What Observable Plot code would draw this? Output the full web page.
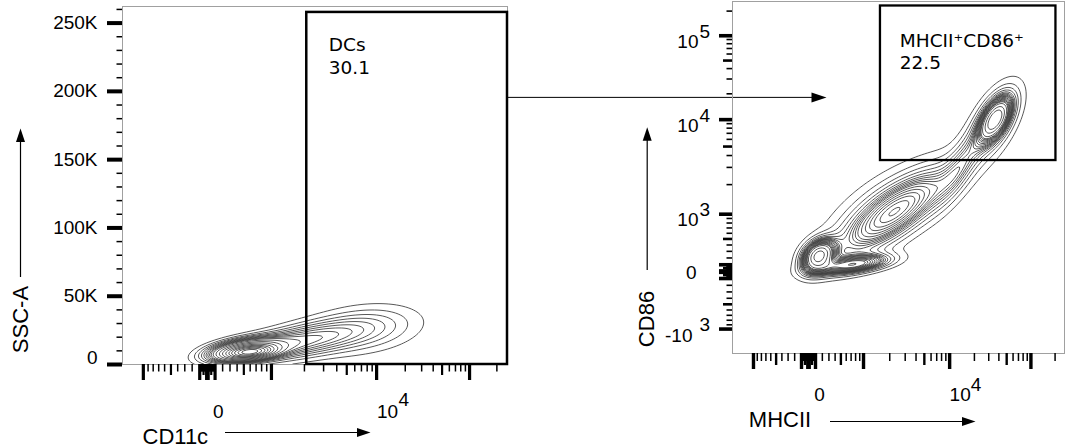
<!DOCTYPE html>
<html><head><meta charset="utf-8">
<script src="https://cdn.jsdelivr.net/npm/d3@7"></script>
<script src="https://cdn.jsdelivr.net/npm/@observablehq/plot@0.6"></script>
<style>
body{margin:0;background:#fff;}
#wrap{position:relative;width:1066px;height:448px;overflow:hidden;}
#wrap svg{position:absolute;left:0;top:0;}
</style></head><body><div id="wrap"></div>
<script>
const T = 262144;
const cd11cAxis = {C: 121.8, p: 3.18, min: -1554, max: T};
const mhciiAxis = {C: 165, p: 2.0, min: -1745, max: T};
const cd86Axis  = {C: 125, p: 3.1, min: -1775, max: T};
const sscDomainK = [0, 262.144];

// ---------------- tick labels ----------------
const sscTicksK = [0, 50, 100, 150, 200, 250];
const sscTickLabels = ["0", "50K", "100K", "150K", "200K", "250K"];
const sscMinorK = d3.range(10, 261, 10).filter(v => v % 50 !== 0);
const cd11cLabelValues = [0, 10000];
const cd11cLabelBase = ["0", "10"];
const cd11cLabelExp = ["", "4"];
const mhciiLabelValues = [0, 10000];
const mhciiLabelBase = ["0", "10"];
const mhciiLabelExp = ["", "4"];
const cd86LabelValues = [100000, 10000, 1000, 0, -1000];
const cd86LabelBase = ["10", "10", "10", "0", "-10"];
const cd86LabelExp = ["5", "4", "3", "", "3"];

// ---------------- gates ----------------
const dcGate  = {x1: 2100, x2: T, y1: 0, y2: 257.8, name: "DCs", pct: "30.1"};
const mhcGate = {x1: 1570, x2: 205000, y1: 3540, y2: 231000, name: "MHCII\u207ACD86\u207A", pct: "22.5"};
const gateLinkSSC = 195.6; // level (K) where the arrow leaves the DCs gate

// ---------------- populations (display units: biex z for log axes, K for SSC) ----------------
// left: CD11c (z) vs SSC-A (K)
const leftCx  = [1.10, 0.97, 2.30, 4.00];
const leftCy  = [9.0, 10.5, 16.5, 26.0];
const leftSx  = [0.36, 0.58, 1.00, 0.95];
const leftSy  = [2.9, 5.1, 9.0, 11.5];
const leftRho = [0.30, 0.40, 0.55, 0.25];
const leftW   = [0.18, 0.30, 0.30, 0.20];
// right: MHCII (z) vs CD86 (z)
const rightCx  = [0.29, 1.30, 2.50, 2.07, 5.38, 5.33, 4.38];
const rightCy  = [0.45, 0.20, 1.67, 2.01, 4.32, 4.22, 3.00];
const rightSx  = [0.30, 0.70, 1.092, 1.123, 0.28, 0.50, 0.46];
const rightSy  = [0.28, 0.18, 0.821, 0.823, 0.38, 0.70, 0.70];
const rightRho = [0.30, 0.50, 0.79, 0.71, 0.55, 0.60, 0.78];
const rightW   = [0.10, 0.08, 0.38, 0.08, 0.10, 0.10, 0.05];
const contourFractions = d3.range(1, 20).map(k => k / 20);

// ---------------- helpers ----------------
function biexValue(z, a) {
  const s = z < 0 ? -1 : 1, u = Math.abs(z), p2 = a.p * a.p;
  return s * a.C * (Math.exp(u) - p2 * Math.exp(-u / a.p) + p2 - 1);
}
function biex(v, a) {
  const s = v < 0 ? -1 : 1, t = Math.abs(v);
  let lo = 0, hi = 30;
  for (let i = 0; i < 70; i++) { const m = (lo + hi) / 2; if (biexValue(m, a) < t) lo = m; else hi = m; }
  return s * (lo + hi) / 2;
}
function biexTicks(a) {
  const major = [0], medium = [], minor = [];
  for (const s of [-1, 1]) for (let k = 1; k <= 5; k++) for (let m = 1; m <= 9; m++) {
    const v = s * m * 10 ** k;
    if (v < a.min || v > a.max) continue;
    if (m === 1) major.push(v); else if (m === 5) medium.push(v); else minor.push(v);
  }
  return {major, medium, minor};
}
function mixture(cx, cy, sx, sy, rho, w) {
  return (x, y) => {
    let s = 0;
    for (let i = 0; i < cx.length; i++) {
      const dx = (x - cx[i]) / sx[i], dy = (y - cy[i]) / sy[i], r = rho[i], q = 1 - r * r;
      s += w[i] / (sx[i] * sy[i] * Math.sqrt(q)) * Math.exp(-(dx * dx - 2 * r * dx * dy + dy * dy) / (2 * q));
    }
    return s;
  };
}
// density grid (row 0 = top of the frame) and equal-probability contour levels
function densityGrid(f, xd, yd, w, h) {
  const vals = new Float64Array(w * h);
  for (let j = 0; j < h; j++) for (let i = 0; i < w; i++)
    vals[j * w + i] = f(xd[0] + (xd[1] - xd[0]) * (i + 0.5) / w, yd[1] + (yd[0] - yd[1]) * (j + 0.5) / h);
  return vals;
}
function probLevels(vals, fracs) {
  const s = Array.from(vals).sort((a, b) => b - a);
  const total = d3.sum(s);
  const out = []; let acc = 0, k = 0;
  for (const v of s) { acc += v; while (k < fracs.length && acc >= fracs[k] * total) { out.push(v); k++; } }
  return out;
}
const arrowHead = {draw(ctx, size) { const r = Math.sqrt(size / Math.PI); ctx.moveTo(0, 0); ctx.lineTo(-3 * r, -r); ctx.lineTo(-3 * r, r); ctx.closePath(); }};

const fontTick = "Liberation Sans, Arial, Helvetica, sans-serif";
const fontGate = "DejaVu Sans, Verdana, sans-serif";
const W = 1066, H = 448;
const noText = () => "";

// ================= LEFT PANEL =================
const zL = v => biex(v, cd11cAxis);
const xdL = [zL(cd11cAxis.min), zL(cd11cAxis.max)];
const densL = mixture(leftCx, leftCy, leftSx, leftSy, leftRho, leftW);
const gwL = 385, ghL = 358;
const gridL = densityGrid(densL, xdL, sscDomainK, gwL, ghL);
const thrL = probLevels(gridL, contourFractions);
const tL = biexTicks(cd11cAxis);
const sscLabels = sscTicksK.map((v, i) => ({v, t: sscTickLabels[i]}));
const cd11cLabels = cd11cLabelValues.map((v, i) => ({v, b: cd11cLabelBase[i], e: cd11cLabelExp[i]}));

const left = Plot.plot({
  width: W, height: H,
  marginLeft: 122, marginRight: W - 507, marginTop: 6, marginBottom: H - 364,
  style: {background: "transparent", overflow: "visible"},
  x: {domain: xdL},
  y: {domain: sscDomainK},
  marks: [
    Plot.contour(gridL, {value: d => d, width: gwL, height: ghL, x1: xdL[0], x2: xdL[1], y1: sscDomainK[1], y2: sscDomainK[0], thresholds: thrL, fill: "none", stroke: "#3a3a3a", strokeWidth: 0.85, clip: true}),
    Plot.frame({stroke: "#a0a0a0", strokeWidth: 1}),
    Plot.axisX(tL.minor.map(zL), {tickSize: 7.5, strokeWidth: 1.5, tickFormat: noText, label: null}),
    Plot.axisX(tL.medium.map(zL), {tickSize: 11, strokeWidth: 2.2, tickFormat: noText, label: null}),
    Plot.axisX(tL.major.map(zL), {tickSize: 16, strokeWidth: 3.2, tickFormat: noText, label: null}),
    Plot.axisY(sscMinorK, {tickSize: 5.5, strokeWidth: 1.5, tickFormat: noText, label: null}),
    Plot.axisY(sscTicksK, {tickSize: 15, strokeWidth: 4, tickFormat: noText, label: null}),
    Plot.text(sscLabels.filter(d => d.v > 0), {y: "v", text: "t", frameAnchor: "left", textAnchor: "end", dx: -25, fontSize: 19, fontFamily: fontTick, fill: "black"}),
    Plot.text(sscLabels.filter(d => d.v === 0), {y: "v", text: "t", frameAnchor: "left", textAnchor: "end", dx: -25, dy: -7, fontSize: 19, fontFamily: fontTick, fill: "black"}),
    Plot.text(cd11cLabels, {x: d => zL(d.v), text: "b", frameAnchor: "bottom", lineAnchor: "bottom", dx: 11, dy: 53, fontSize: 19, fontFamily: fontTick, fill: "black"}),
    Plot.text(cd11cLabels.filter(d => d.e), {x: d => zL(d.v), text: "e", frameAnchor: "bottom", lineAnchor: "bottom", textAnchor: "start", dx: 22, dy: 41, fontSize: 19, fontFamily: fontTick, fill: "black"}),
    // axis titles + arrows
    Plot.text(["SSC-A"], {frameAnchor: "bottom-left", rotate: -90, textAnchor: "middle", lineAnchor: "bottom", dx: -95, dy: -45, fontSize: 22, fontFamily: fontTick, fill: "black"}),
    Plot.ruleX([xdL[0]], {dx: -102, insetTop: 134, insetBottom: 87, stroke: "black", strokeWidth: 1.2}),
    Plot.dot([0], {frameAnchor: "top-left", dx: -102, dy: 122, symbol: arrowHead, r: 4.5, rotate: -90, fill: "black", stroke: "none"}),
    Plot.text(["CD11c"], {frameAnchor: "bottom-left", textAnchor: "start", lineAnchor: "bottom", dx: 20, dy: 79, fontSize: 22, fontFamily: fontTick, fill: "black"}),
    Plot.ruleY([0], {dy: 68, insetLeft: 103, insetRight: 147, stroke: "black", strokeWidth: 1.2}),
    Plot.dot([0], {frameAnchor: "bottom-left", dx: 248, dy: 68, symbol: arrowHead, r: 4.5, fill: "black", stroke: "none"}),
    // gate
    Plot.rect([dcGate], {x1: d => zL(d.x1), x2: d => zL(d.x2), y1: "y1", y2: "y2", fill: "none", stroke: "black", strokeWidth: 2.5}),
    Plot.text([dcGate], {x: d => zL(d.x1), y: "y2", text: d => d.name + "\n" + d.pct, textAnchor: "start", lineAnchor: "top", dx: 22, dy: 22, lineHeight: 1.25, fontSize: 18.5, fontFamily: fontGate, fill: "black"}),
    // link arrow to the next panel
    Plot.ruleY([gateLinkSSC], {insetLeft: 385, insetRight: -305, stroke: "black", strokeWidth: 1}),
    Plot.dot([gateLinkSSC], {y: d => d, frameAnchor: "right", dx: 319, symbol: arrowHead, r: 5, fill: "black", stroke: "none"})
  ]
});

// ================= RIGHT PANEL =================
const zX = v => biex(v, mhciiAxis);
const zY = v => biex(v, cd86Axis);
const xdR = [zX(mhciiAxis.min), zX(mhciiAxis.max)];
const ydR = [zY(cd86Axis.min), zY(cd86Axis.max)];
const densR = mixture(rightCx, rightCy, rightSx, rightSy, rightRho, rightW);
const gwR = 332, ghR = 352;
const gridR = densityGrid(densR, xdR, ydR, gwR, ghR);
const thrR = probLevels(gridR, contourFractions);
const tX = biexTicks(mhciiAxis), tY = biexTicks(cd86Axis);
const mhcLabels = mhciiLabelValues.map((v, i) => ({v, b: mhciiLabelBase[i], e: mhciiLabelExp[i]}));
const cd86Labels = cd86LabelValues.map((v, i) => ({v, b: cd86LabelBase[i], e: cd86LabelExp[i]}));

const right = Plot.plot({
  width: W, height: H,
  marginLeft: 732, marginRight: 2, marginTop: 1, marginBottom: H - 353,
  style: {background: "transparent", overflow: "visible"},
  x: {domain: xdR},
  y: {domain: ydR},
  marks: [
    Plot.contour(gridR, {value: d => d, width: gwR, height: ghR, x1: xdR[0], x2: xdR[1], y1: ydR[1], y2: ydR[0], thresholds: thrR, fill: "none", stroke: "#3a3a3a", strokeWidth: 0.85, clip: true}),
    Plot.frame({stroke: "#a0a0a0", strokeWidth: 1}),
    Plot.axisX(tX.minor.map(zX), {tickSize: 8, strokeWidth: 1.5, tickFormat: noText, label: null}),
    Plot.axisX(tX.medium.map(zX), {tickSize: 12, strokeWidth: 2.4, tickFormat: noText, label: null}),
    Plot.axisX(tX.major.map(zX), {tickSize: 16, strokeWidth: 3.4, tickFormat: noText, label: null}),
    Plot.axisY(tY.minor.map(zY), {tickSize: 5.5, strokeWidth: 1.6, tickFormat: noText, label: null}),
    Plot.axisY(tY.medium.map(zY), {tickSize: 9, strokeWidth: 2.6, tickFormat: noText, label: null}),
    Plot.axisY(tY.major.map(zY), {tickSize: 13, strokeWidth: 3.6, tickFormat: noText, label: null}),
    Plot.text(mhcLabels.filter(d => d.v === 0), {x: d => zX(d.v), text: "b", frameAnchor: "bottom", lineAnchor: "bottom", dx: 11, dy: 47, fontSize: 19, fontFamily: fontTick, fill: "black"}),
    Plot.text(mhcLabels.filter(d => d.v !== 0), {x: d => zX(d.v), text: "b", frameAnchor: "bottom", lineAnchor: "bottom", dx: 10.5, dy: 47, fontSize: 19, fontFamily: fontTick, fill: "black"}),
    Plot.text(mhcLabels.filter(d => d.e), {x: d => zX(d.v), text: "e", frameAnchor: "bottom", lineAnchor: "bottom", textAnchor: "start", dx: 21, dy: 37, fontSize: 19, fontFamily: fontTick, fill: "black"}),
    Plot.text(cd86Labels.filter(d => d.v > 0), {y: d => zY(d.v), text: "b", frameAnchor: "left", textAnchor: "end", lineAnchor: "bottom", dx: -34, dy: 12, fontSize: 19, fontFamily: fontTick, fill: "black"}),
    Plot.text(cd86Labels.filter(d => d.v === 0), {y: d => zY(d.v), text: "b", frameAnchor: "left", textAnchor: "end", lineAnchor: "bottom", dx: -36, dy: 7, fontSize: 19, fontFamily: fontTick, fill: "black"}),
    Plot.text(cd86Labels.filter(d => d.v < 0), {y: d => zY(d.v), text: "b", frameAnchor: "left", textAnchor: "end", lineAnchor: "bottom", dx: -40, dy: 13, fontSize: 19, fontFamily: fontTick, fill: "black"}),
    Plot.text(cd86Labels.filter(d => d.e && d.v > 0), {y: d => zY(d.v), text: "e", frameAnchor: "left", textAnchor: "start", lineAnchor: "bottom", dx: -33, dy: 2, fontSize: 19, fontFamily: fontTick, fill: "black"}),
    Plot.text(cd86Labels.filter(d => d.e && d.v < 0), {y: d => zY(d.v), text: "e", frameAnchor: "left", textAnchor: "start", lineAnchor: "bottom", dx: -33, dy: 2, fontSize: 19, fontFamily: fontTick, fill: "black"}),
    // axis titles + arrows
    Plot.text(["CD86"], {frameAnchor: "bottom-left", rotate: -90, textAnchor: "middle", lineAnchor: "bottom", dx: -79, dy: -34.5, fontSize: 22, fontFamily: fontTick, fill: "black"}),
    Plot.ruleX([xdR[0]], {dx: -85.3, insetTop: 138, insetBottom: 83, stroke: "black", strokeWidth: 1.2}),
    Plot.dot([0], {frameAnchor: "top-left", dx: -85.3, dy: 125.7, symbol: arrowHead, r: 4.5, rotate: -90, fill: "black", stroke: "none"}),
    Plot.text(["MHCII"], {frameAnchor: "bottom-left", textAnchor: "start", lineAnchor: "bottom", dx: 16.3, dy: 73.7, fontSize: 22, fontFamily: fontTick, fill: "black"}),
    Plot.ruleY([ydR[0]], {dy: 68, insetLeft: 98, insetRight: 102, stroke: "black", strokeWidth: 1.2}),
    Plot.dot([0], {frameAnchor: "bottom-left", dx: 243, dy: 68, symbol: arrowHead, r: 4.5, fill: "black", stroke: "none"}),
    // gate
    Plot.rect([mhcGate], {x1: d => zX(d.x1), x2: d => zX(d.x2), y1: d => zY(d.y1), y2: d => zY(d.y2), fill: "none", stroke: "black", strokeWidth: 2.3}),
    Plot.text([mhcGate], {x: d => zX(d.x1), y: d => zY(d.y2), text: d => d.name + "\n" + d.pct, textAnchor: "start", lineAnchor: "top", dx: 19.3, dy: 25, lineHeight: 1.19, fontSize: 18.5, fontFamily: fontGate, fill: "black"})
  ]
});

const wrap = document.getElementById("wrap");
wrap.appendChild(left);
wrap.appendChild(right);
</script></body></html>
